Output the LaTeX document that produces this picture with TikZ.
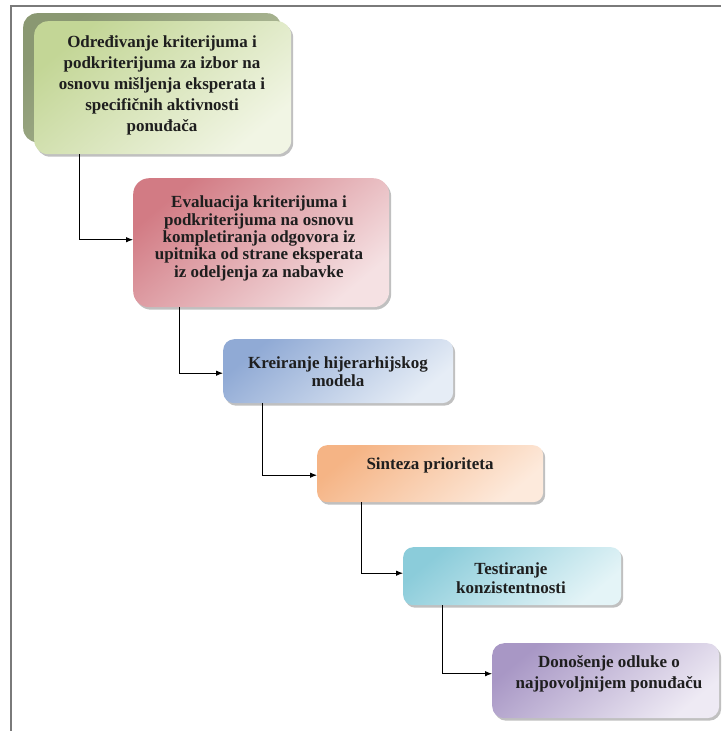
\documentclass[tikz,border=0pt]{standalone}
\usepackage{fontspec}
\setmainfont{Liberation Serif}
\usetikzlibrary{arrows.meta,shadows,calc}

% fill colours: dark edge / light centre for each stage
\definecolor{grnA}{HTML}{C3D696}\definecolor{grnB}{HTML}{F1F5E4}
\definecolor{grnBackA}{HTML}{8A9872}\definecolor{grnBackB}{HTML}{B3BE9C}
\definecolor{redA}{HTML}{D27B84}\definecolor{redB}{HTML}{F5E1E3}
\definecolor{bluA}{HTML}{90AAD5}\definecolor{bluB}{HTML}{E6EDF6}
\definecolor{orgA}{HTML}{F5B485}\definecolor{orgB}{HTML}{FDEADC}
\definecolor{cyaA}{HTML}{8BCCDA}\definecolor{cyaB}{HTML}{E4F4F7}
\definecolor{purA}{HTML}{A897C5}\definecolor{purB}{HTML}{EEEAF4}
\definecolor{txt}{HTML}{1E1E1E}
\definecolor{frame}{HTML}{7A7A7A}

\tikzset{
  stage/.style={rectangle, rounded corners=#1, inner sep=0pt, anchor=north west,
    drop shadow={shadow xshift=2pt, shadow yshift=-2.5pt, opacity=0.45, fill=black!55}},
  stage/.default=12pt,
  tint/.style n args={2}{top color=#1, bottom color=#2, shading angle=40},
  label text/.style={align=center, inner sep=0pt, text=txt,
    font=\bfseries\fontsize{17}{#1}\selectfont},
  conn/.style={draw=black, line width=0.9pt, -{Latex[length=7pt,width=5.5pt]}},
}

\begin{document}
\begin{tikzpicture}[x=1pt, y=-1pt]
\useasboundingbox (0,0) rectangle (721,731);

% outer frame, top and left sides
\draw[frame, line width=2pt] (11,731) -- (11,6) -- (721,6);

% stage boxes (stage 1 sits on a raised back plate)
\node[rectangle, rounded corners=14pt, anchor=north west, minimum width=258pt, minimum height=129pt,
      tint={grnBackA}{grnBackB}] (b1back) at (23,13) {};
\node[stage=14pt, tint={grnA}{grnB}, minimum width=257pt, minimum height=133pt] (b1) at (34,21) {};
\node[stage=16pt, tint={redA}{redB}, minimum width=256pt, minimum height=129pt] (b2) at (133,178) {};
\node[stage=11pt, tint={bluA}{bluB}, minimum width=230pt, minimum height=64pt] (b3) at (223,339) {};
\node[stage=10pt, tint={orgA}{orgB}, minimum width=226pt, minimum height=57pt] (b4) at (317,445) {};
\node[stage=10pt, tint={cyaA}{cyaB}, minimum width=218pt, minimum height=58pt] (b5) at (403,547) {};
\node[stage=12pt, tint={purA}{purB}, minimum width=227pt, minimum height=75pt] (b6) at (492,643) {};

% stage captions
\node[label text=20.8] (t1) at (162,85.5)
  {Određivanje kriterijuma i\\ podkriterijuma za izbor na\\ osnovu mišljenja eksperata i\\ specifičnih aktivnosti\\ ponuđača};
\node[label text=17.4] (t2) at (259,238.5)
  {Evaluacija kriterijuma i\\ podkriterijuma na osnovu\\ kompletiranja odgovora iz\\ upitnika od strane eksperata\\ iz odeljenja za nabavke};
\node[label text=18.3] (t3) at (338,371.5) {Kreiranje hijerarhijskog\\ modela};
\node[label text=18] (t4) at (430,465) {Sinteza prioriteta};
\node[label text=19] (t5) at (511,578) {Testiranje\\ konzistentnosti};
\node[label text=20.6] (t6) at (609,674) {Donošenje odluke o\\ najpovoljnijem ponuđaču};

% elbow connectors between consecutive stages
\draw[conn] ($(b1.south west)+(45,0)$) |- ([yshift=3pt]b2.west);
\draw[conn] ($(b2.south west)+(46,0)$) |- ([yshift=-2pt]b3.west);
\draw[conn] ($(b3.south west)+(39,0)$) |- ([yshift=-1.5pt]b4.west);
\draw[conn] ($(b4.south west)+(44,0)$) |- ([yshift=3pt]b5.west);
\draw[conn] ($(b5.south west)+(39,0)$) |- ([yshift=7pt]b6.west);
\end{tikzpicture}
\end{document}
